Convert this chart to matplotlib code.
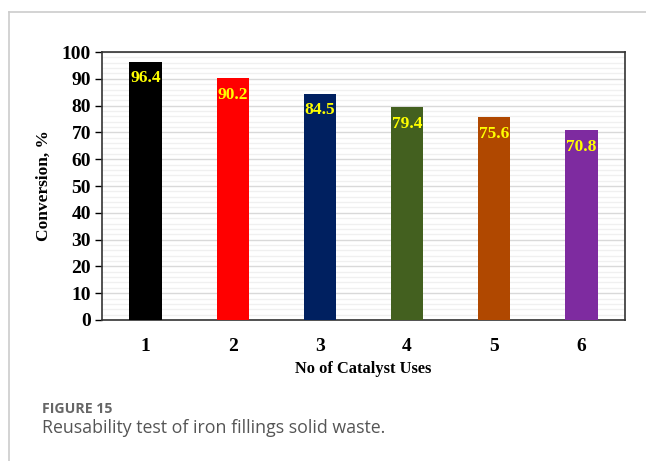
import matplotlib
matplotlib.use('Agg')
import matplotlib.pyplot as plt
from matplotlib.lines import Line2D
from matplotlib.ticker import MultipleLocator

uses = ['1', '2', '3', '4', '5', '6']
conversion = [96.4, 90.2, 84.5, 79.4, 75.6, 70.8]
bar_colors = ['#000000', '#FF0000', '#002060', '#43601F', '#B04800', '#7E2BA0']

serif = ['Liberation Serif', 'DejaVu Serif']

fig = plt.figure(figsize=(6.46, 4.61), dpi=100)
ax = fig.add_axes([102 / 646, 1 - 320 / 461, (625 - 102) / 646, (320 - 52) / 461])

x = list(range(len(uses)))
ax.bar(x, conversion, width=0.37, color=bar_colors, zorder=3)

for xi, v in zip(x, conversion):
    ax.annotate(f'{v}', (xi, v), xytext=(0, -12), textcoords='offset points',
                ha='center', va='center', color='#FFFF00', fontsize=12.5,
                fontweight='bold', family=serif, zorder=4)

ax.set_xlim(-0.5, len(uses) - 0.5)
ax.set_ylim(0, 100)
ax.yaxis.set_major_locator(MultipleLocator(10))
ax.yaxis.set_minor_locator(MultipleLocator(2))
ax.grid(axis='y', which='major', color='#d9d9d9', linewidth=1.0, zorder=0)
ax.grid(axis='y', which='minor', color='#f0f0f0', linewidth=1.0, zorder=0)
ax.set_axisbelow(True)

ax.set_xticks(x)
ax.set_xticklabels(uses)
ax.tick_params(axis='x', length=0, pad=13)
ax.tick_params(axis='y', which='major', length=5, width=1, direction='out', pad=3)
ax.tick_params(axis='y', which='minor', length=0)
for lbl in ax.get_xticklabels() + ax.get_yticklabels():
    lbl.set_family(serif)
    lbl.set_fontweight('bold')
    lbl.set_fontsize(14)

for s in ax.spines.values():
    s.set_color('#333333')
    s.set_linewidth(1.2)

ax.set_ylabel('Conversion, %', family=serif, fontweight='bold', fontsize=12.5, labelpad=7)
ax.set_xlabel('No of Catalyst Uses', family=serif, fontweight='bold', fontsize=11.8, labelpad=4)

# outer frame of the figure panel
fig.add_artist(Line2D([9 / 646, 9 / 646], [0, 1 - 12 / 461], color='#cccccc', linewidth=1.2))
fig.add_artist(Line2D([9 / 646, 1], [1 - 12 / 461, 1 - 12 / 461], color='#cccccc', linewidth=1.2))

fig.text(42 / 646, 1 - 409 / 461, 'FIGURE 15', family=['Open Sans', 'DejaVu Sans'],
         fontweight='bold', fontsize=10.2, color='#666666', va='center')
fig.text(42 / 646, 1 - 428 / 461, 'Reusability test of iron fillings solid waste.',
         family=['Open Sans', 'DejaVu Sans'], fontsize=12.8, color='#555555', va='center')

fig.savefig('out.png', dpi=100)
